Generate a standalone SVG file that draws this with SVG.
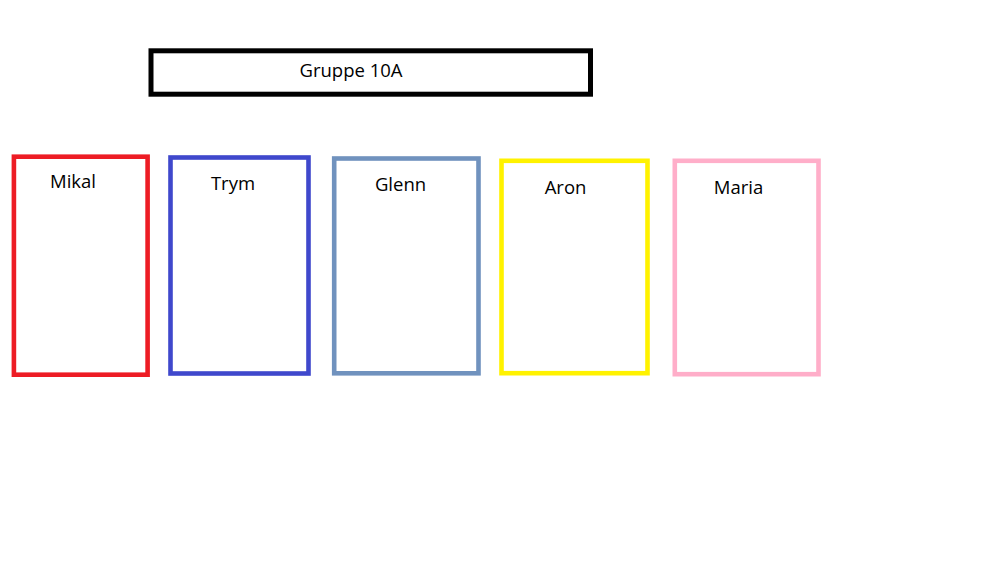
<svg xmlns="http://www.w3.org/2000/svg" width="982" height="561" viewBox="0 0 982 561">
<style>
.box{fill:#fff;stroke-width:4.6}
.lbl{font-family:"Open Sans","Liberation Sans",sans-serif;font-size:18.5px;fill:#000;text-anchor:middle}
</style>
<rect width="982" height="561" fill="#fff"/>
<g id="title">
<rect x="151" y="50.8" width="439.5" height="43.4" fill="#fff" stroke="#000" stroke-width="5"/>
<text class="lbl" x="351" y="77">Gruppe 10A</text>
</g>
<g id="mikal">
<rect class="box" x="13.9" y="156.7" width="133.7" height="218" stroke="#ED1C24"/>
<text class="lbl" x="73" y="188">Mikal</text>
</g>
<g id="trym">
<rect class="box" x="170.5" y="157.5" width="138" height="216" stroke="#3F48CC"/>
<text class="lbl" x="233" y="190">Trym</text>
</g>
<g id="glenn">
<rect class="box" x="334.2" y="158.5" width="144.3" height="214.8" stroke="#7092BE"/>
<text class="lbl" x="400.5" y="191">Glenn</text>
</g>
<g id="aron">
<rect class="box" x="501.5" y="160.8" width="146" height="212.4" stroke="#FFF200"/>
<text class="lbl" x="565.5" y="194">Aron</text>
</g>
<g id="maria">
<rect class="box" x="674.8" y="160.8" width="143.7" height="213.4" stroke="#FFAEC9"/>
<text class="lbl" x="738.5" y="194">Maria</text>
</g>
<g id="connectors"/>
</svg>
